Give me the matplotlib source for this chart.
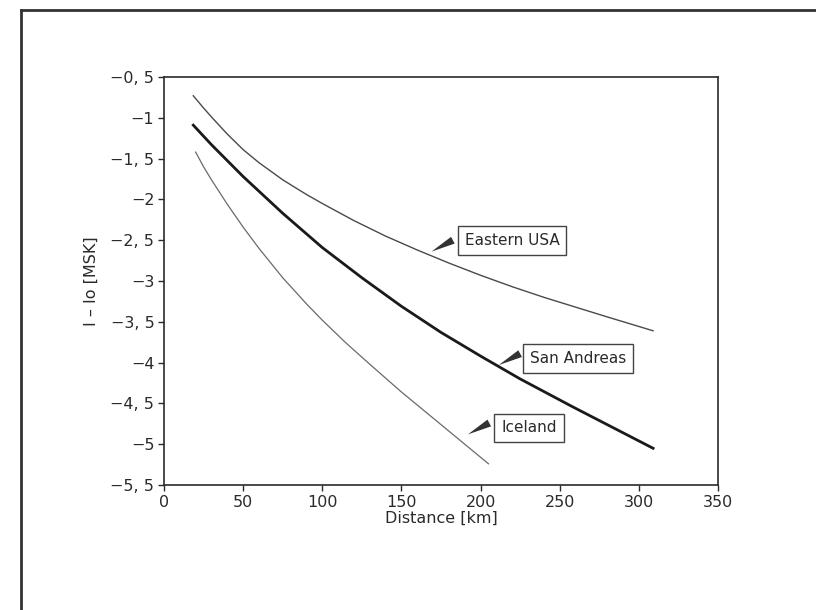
import matplotlib
matplotlib.use("Agg")
import matplotlib.pyplot as plt
from matplotlib.lines import Line2D

# values (distance in km, I - Io in MSK)
east_x = [18.5, 25, 30, 40, 50, 60, 75, 90, 100, 120, 140, 160, 180, 200, 220, 240, 260, 280, 309]
east_y = [-0.73, -0.88, -0.99, -1.20, -1.39, -1.55, -1.76, -1.94, -2.05, -2.26, -2.45,
          -2.62, -2.78, -2.93, -3.07, -3.20, -3.32, -3.44, -3.61]

sanand_x = [18.5, 30, 50, 75, 100, 125, 150, 175, 200, 225, 258, 280, 309]
sanand_y = [-1.09, -1.33, -1.72, -2.17, -2.59, -2.96, -3.31, -3.63, -3.92, -4.20,
            -4.54, -4.76, -5.05]

iceland_x = [20, 25, 30, 40, 50, 60, 75, 90, 100, 115, 130, 150, 165, 180, 195, 205]
iceland_y = [-1.42, -1.60, -1.76, -2.06, -2.34, -2.60, -2.96, -3.28, -3.48, -3.76,
             -4.02, -4.36, -4.60, -4.84, -5.08, -5.24]

yticks = [-0.5, -1, -1.5, -2, -2.5, -3, -3.5, -4, -4.5, -5, -5.5]
ytick_labels = ["\u22120, 5", "\u22121", "\u22121, 5", "\u22122", "\u22122, 5", "\u22123",
                "\u22123, 5", "\u22124", "\u22124, 5", "\u22125", "\u22125, 5"]
xticks = [0, 50, 100, 150, 200, 250, 300, 350]

# label boxes: (text, box left x, box centre y, arrow tip, arrow base)
labels = [
    ("Eastern USA", 190, -2.50, (169, -2.64), (182.5, -2.50)),
    ("San Andreas", 231, -3.95, (211.5, -4.03), (225, -3.89)),
    ("Iceland", 213, -4.80, (192, -4.88), (205.5, -4.74)),
]

ink = "#2a2a2a"

fig = plt.figure(figsize=(8.16, 6.10), dpi=100)
ax = fig.add_axes([164 / 816, 1 - 485 / 610, 554 / 816, 408 / 610])

ax.plot(east_x, east_y, color="#4a4a4a", linewidth=1.0)
ax.plot(sanand_x, sanand_y, color="#1a1a1a", linewidth=2.0)
ax.plot(iceland_x, iceland_y, color="#6a6a6a", linewidth=0.9)

for txt, bx, by, tip, base in labels:
    ax.text(bx, by, txt, fontsize=11, color=ink, ha="left", va="center",
            bbox=dict(boxstyle="square,pad=0.45", facecolor="white",
                      edgecolor="#444444", linewidth=1.0))
    ax.annotate("", xy=tip, xytext=base,
                arrowprops=dict(arrowstyle="wedge,tail_width=0.55,shrink_factor=0.5",
                                color="#333333", linewidth=0,
                                shrinkA=0, shrinkB=0))

ax.set_xlim(0, 350)
ax.set_ylim(-5.5, -0.5)
ax.set_xticks(xticks)
ax.set_yticks(yticks)
ax.set_yticklabels(ytick_labels)
ax.tick_params(axis="both", direction="out", length=4, width=1, colors=ink,
               labelsize=11.5, pad=3)
for s in ax.spines.values():
    s.set_color(ink)
    s.set_linewidth(1.2)

ax.set_xlabel("Distance [km]", fontsize=11.5, color=ink, labelpad=1)
ax.set_ylabel("I \u2013 Io [MSK]", fontsize=11.5, color=ink, labelpad=8)

# scanned page frame (top and left edges)
fig.add_artist(Line2D([21 / 816, 1.0], [1 - 10 / 610, 1 - 10 / 610],
                      transform=fig.transFigure, color="#333333", linewidth=2))
fig.add_artist(Line2D([21 / 816, 21 / 816], [0.0, 1 - 10 / 610],
                      transform=fig.transFigure, color="#333333", linewidth=2))

fig.savefig("out.png", dpi=100)
plt.close(fig)
